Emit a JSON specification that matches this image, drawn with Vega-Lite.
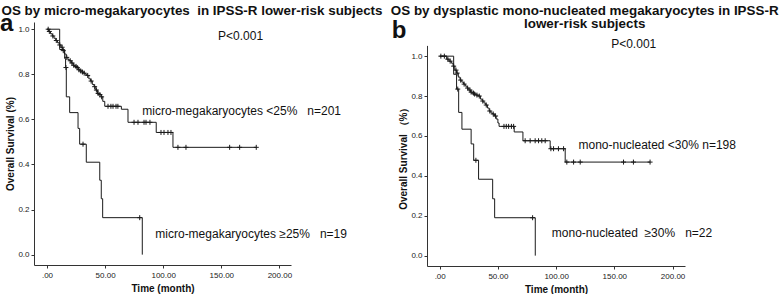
{
  "$schema": "https://vega.github.io/schema/vega-lite/v6.json",
  "padding": {"left": 0, "top": 4, "right": 0, "bottom": 0},
  "spacing": 7,
  "background": "white",
  "config": {
    "view": {"stroke": null},
    "font": "Liberation Sans",
    "axis": {
      "grid": false,
      "domainColor": "#333",
      "tickColor": "#333",
      "labelColor": "#222",
      "labelFont": "Liberation Sans",
      "labelFontSize": 8,
      "titleFont": "Liberation Sans",
      "titleFontWeight": "bold",
      "titleFontSize": 10,
      "titleColor": "#111",
      "tickSize": 3
    },
    "title": {
      "font": "Liberation Sans",
      "fontSize": 13.4,
      "fontWeight": "bold",
      "color": "#111",
      "anchor": "middle",
      "frame": "group",
      "lineHeight": 12.5
    }
  },
  "datasets": {
    "curveA": [
      {"g": "lt25", "t": 0, "s": 1.0},
      {"g": "lt25", "t": 1.5, "s": 0.99},
      {"g": "lt25", "t": 3, "s": 0.98},
      {"g": "lt25", "t": 4.5, "s": 0.97},
      {"g": "lt25", "t": 6, "s": 0.96},
      {"g": "lt25", "t": 7.5, "s": 0.95},
      {"g": "lt25", "t": 9, "s": 0.94},
      {"g": "lt25", "t": 10.5, "s": 0.93},
      {"g": "lt25", "t": 12, "s": 0.92},
      {"g": "lt25", "t": 13.5, "s": 0.905},
      {"g": "lt25", "t": 15, "s": 0.89},
      {"g": "lt25", "t": 16.5, "s": 0.875},
      {"g": "lt25", "t": 18, "s": 0.865},
      {"g": "lt25", "t": 19.5, "s": 0.86},
      {"g": "lt25", "t": 21, "s": 0.85},
      {"g": "lt25", "t": 22.5, "s": 0.84},
      {"g": "lt25", "t": 24, "s": 0.835},
      {"g": "lt25", "t": 25.5, "s": 0.83},
      {"g": "lt25", "t": 27, "s": 0.82},
      {"g": "lt25", "t": 28.5, "s": 0.815},
      {"g": "lt25", "t": 30, "s": 0.81},
      {"g": "lt25", "t": 31.5, "s": 0.805},
      {"g": "lt25", "t": 33, "s": 0.80},
      {"g": "lt25", "t": 34.5, "s": 0.795},
      {"g": "lt25", "t": 36, "s": 0.78},
      {"g": "lt25", "t": 37.5, "s": 0.77},
      {"g": "lt25", "t": 39, "s": 0.755},
      {"g": "lt25", "t": 40.5, "s": 0.745},
      {"g": "lt25", "t": 42, "s": 0.73},
      {"g": "lt25", "t": 43.5, "s": 0.715},
      {"g": "lt25", "t": 45, "s": 0.71},
      {"g": "lt25", "t": 46.5, "s": 0.70},
      {"g": "lt25", "t": 48, "s": 0.68},
      {"g": "lt25", "t": 49.7, "s": 0.658},
      {"g": "lt25", "t": 64, "s": 0.645},
      {"g": "lt25", "t": 69.7, "s": 0.587},
      {"g": "lt25", "t": 94, "s": 0.542},
      {"g": "lt25", "t": 108.4, "s": 0.476},
      {"g": "lt25", "t": 180.1, "s": 0.476},
      {"g": "ge25", "t": 0, "s": 1.0},
      {"g": "ge25", "t": 10.9, "s": 0.91},
      {"g": "ge25", "t": 15.2, "s": 0.87},
      {"g": "ge25", "t": 16, "s": 0.83},
      {"g": "ge25", "t": 16.6, "s": 0.70},
      {"g": "ge25", "t": 19.5, "s": 0.63},
      {"g": "ge25", "t": 26.7, "s": 0.56},
      {"g": "ge25", "t": 28.1, "s": 0.49},
      {"g": "ge25", "t": 33.8, "s": 0.41},
      {"g": "ge25", "t": 45.4, "s": 0.33},
      {"g": "ge25", "t": 46.7, "s": 0.248},
      {"g": "ge25", "t": 47.9, "s": 0.164},
      {"g": "ge25", "t": 82, "s": 0.0}
    ],
    "censorA": [
      {"t": 1, "s": 1.0}, {"t": 2, "s": 0.99}, {"t": 5, "s": 0.97}, {"t": 8, "s": 0.95},
      {"t": 11, "s": 0.93}, {"t": 13, "s": 0.92}, {"t": 14, "s": 0.905}, {"t": 17, "s": 0.875},
      {"t": 20, "s": 0.86}, {"t": 21.5, "s": 0.85}, {"t": 23, "s": 0.84}, {"t": 25, "s": 0.835},
      {"t": 26, "s": 0.83}, {"t": 27.5, "s": 0.82}, {"t": 29, "s": 0.815}, {"t": 30.5, "s": 0.81},
      {"t": 32, "s": 0.805}, {"t": 35, "s": 0.795}, {"t": 38, "s": 0.77}, {"t": 41, "s": 0.745},
      {"t": 42.5, "s": 0.73}, {"t": 44, "s": 0.715}, {"t": 45.5, "s": 0.71}, {"t": 47, "s": 0.70},
      {"t": 52.5, "s": 0.658}, {"t": 55, "s": 0.658}, {"t": 56.8, "s": 0.658}, {"t": 59.4, "s": 0.658}, {"t": 61, "s": 0.658},
      {"t": 74.9, "s": 0.587}, {"t": 78.3, "s": 0.587}, {"t": 83.5, "s": 0.587}, {"t": 85.2, "s": 0.587}, {"t": 88.6, "s": 0.587},
      {"t": 98.1, "s": 0.542}, {"t": 100.7, "s": 0.542}, {"t": 104.1, "s": 0.542}, {"t": 106.7, "s": 0.542},
      {"t": 112.7, "s": 0.476}, {"t": 119.6, "s": 0.476}, {"t": 157.2, "s": 0.476}, {"t": 165.8, "s": 0.476}, {"t": 180.1, "s": 0.476},
      {"t": 16.3, "s": 0.83}, {"t": 31, "s": 0.49}, {"t": 79.8, "s": 0.164}
    ],
    "labelsA": [
      {"t": 147.2, "s": 0.968, "text": "P<0.001"},
      {"t": 82, "s": 0.639, "text": "micro-megakaryocytes <25%\u00a0\u00a0\u00a0n=201"},
      {"t": 93.2, "s": 0.0906, "text": "micro-megakaryocytes \u226525%\u00a0\u00a0\u00a0n=19"}
    ],
    "letterA": [{"t": -40.4, "s": 1.024, "text": "a"}],
    "curveB": [
      {"g": "lt30", "t": 0, "s": 1.0},
      {"g": "lt30", "t": 6, "s": 0.985},
      {"g": "lt30", "t": 8, "s": 0.975},
      {"g": "lt30", "t": 10, "s": 0.965},
      {"g": "lt30", "t": 11.5, "s": 0.95},
      {"g": "lt30", "t": 13, "s": 0.93},
      {"g": "lt30", "t": 14.5, "s": 0.915},
      {"g": "lt30", "t": 16, "s": 0.895},
      {"g": "lt30", "t": 17.5, "s": 0.88},
      {"g": "lt30", "t": 19, "s": 0.87},
      {"g": "lt30", "t": 20.5, "s": 0.86},
      {"g": "lt30", "t": 22, "s": 0.85},
      {"g": "lt30", "t": 23.5, "s": 0.84},
      {"g": "lt30", "t": 25, "s": 0.83},
      {"g": "lt30", "t": 26.5, "s": 0.82},
      {"g": "lt30", "t": 28, "s": 0.815},
      {"g": "lt30", "t": 29.5, "s": 0.81},
      {"g": "lt30", "t": 31, "s": 0.805},
      {"g": "lt30", "t": 33, "s": 0.80},
      {"g": "lt30", "t": 35, "s": 0.785},
      {"g": "lt30", "t": 36.5, "s": 0.775},
      {"g": "lt30", "t": 38, "s": 0.765},
      {"g": "lt30", "t": 39.5, "s": 0.755},
      {"g": "lt30", "t": 41, "s": 0.74},
      {"g": "lt30", "t": 42.5, "s": 0.725},
      {"g": "lt30", "t": 44, "s": 0.715},
      {"g": "lt30", "t": 45.5, "s": 0.71},
      {"g": "lt30", "t": 47, "s": 0.70},
      {"g": "lt30", "t": 48.5, "s": 0.685},
      {"g": "lt30", "t": 50, "s": 0.665},
      {"g": "lt30", "t": 51, "s": 0.648},
      {"g": "lt30", "t": 64, "s": 0.62},
      {"g": "lt30", "t": 71.5, "s": 0.576},
      {"g": "lt30", "t": 94.9, "s": 0.536},
      {"g": "lt30", "t": 107.8, "s": 0.469},
      {"g": "lt30", "t": 180.7, "s": 0.469},
      {"g": "ge30", "t": 0, "s": 1.0},
      {"g": "ge30", "t": 12, "s": 0.909},
      {"g": "ge30", "t": 14.5, "s": 0.835},
      {"g": "ge30", "t": 16.3, "s": 0.718},
      {"g": "ge30", "t": 19.1, "s": 0.634},
      {"g": "ge30", "t": 27, "s": 0.56},
      {"g": "ge30", "t": 29.2, "s": 0.478},
      {"g": "ge30", "t": 33.4, "s": 0.383},
      {"g": "ge30", "t": 45.5, "s": 0.285},
      {"g": "ge30", "t": 47.2, "s": 0.19},
      {"g": "ge30", "t": 82.1, "s": 0.0}
    ],
    "censorB": [
      {"t": 1, "s": 1.0}, {"t": 4, "s": 1.0}, {"t": 7, "s": 0.985}, {"t": 9, "s": 0.975},
      {"t": 12, "s": 0.95}, {"t": 14, "s": 0.93}, {"t": 15, "s": 0.915}, {"t": 18, "s": 0.88},
      {"t": 21, "s": 0.86}, {"t": 24, "s": 0.84}, {"t": 26, "s": 0.83}, {"t": 27, "s": 0.82},
      {"t": 29, "s": 0.815}, {"t": 30, "s": 0.81}, {"t": 32, "s": 0.805}, {"t": 34, "s": 0.80},
      {"t": 37, "s": 0.775}, {"t": 40, "s": 0.755}, {"t": 43, "s": 0.725}, {"t": 46, "s": 0.71}, {"t": 48, "s": 0.70},
      {"t": 55.2, "s": 0.648}, {"t": 57.2, "s": 0.648}, {"t": 59.2, "s": 0.648}, {"t": 61.6, "s": 0.648}, {"t": 63.5, "s": 0.648},
      {"t": 73.4, "s": 0.576}, {"t": 77.7, "s": 0.576}, {"t": 82, "s": 0.576}, {"t": 84.9, "s": 0.576}, {"t": 87.7, "s": 0.576}, {"t": 90.6, "s": 0.576},
      {"t": 95.5, "s": 0.536}, {"t": 97.8, "s": 0.536}, {"t": 102, "s": 0.536}, {"t": 106.4, "s": 0.536},
      {"t": 109.2, "s": 0.469}, {"t": 115, "s": 0.469}, {"t": 120.7, "s": 0.469}, {"t": 157.9, "s": 0.469}, {"t": 166.4, "s": 0.469}, {"t": 180.7, "s": 0.469},
      {"t": 15.5, "s": 0.835}, {"t": 31.1, "s": 0.478}, {"t": 79.8, "s": 0.19}
    ],
    "labelsB": [
      {"t": 147.3, "s": 1.063, "text": "P<0.001"},
      {"t": 119.2, "s": 0.556, "text": "mono-nucleated <30% n=198"},
      {"t": 96.3, "s": 0.115, "text": "mono-nucleated\u00a0\u00a0\u226530%\u00a0\u00a0\u00a0n=22"}
    ],
    "letterB": [{"t": -41.2, "s": 1.128, "text": "b"}]
  },
  "hconcat": [
    {
      "width": 257,
      "height": 243,
      "title": {"text": "OS by micro-megakaryocytes\u00a0\u00a0in IPSS-R lower-risk subjects", "dx": 29.5, "offset": -6},
      "encoding": {
        "x": {"field": "t", "type": "quantitative",
          "scale": {"domain": [-11.2, 210], "nice": false, "zero": false},
          "axis": {"title": "Time (month)", "values": [0, 50, 100, 150, 200], "labelExpr": "datum.value == 0 ? '.00' : format(datum.value, '.2f')", "labelPadding": 3, "titlePadding": 4}},
        "y": {"field": "s", "type": "quantitative",
          "scale": {"domain": [-0.046, 1.032], "nice": false, "zero": false},
          "axis": {"title": "Overall Survival (%)", "values": [0, 0.2, 0.4, 0.6, 0.8, 1.0], "format": ".1f", "labelPadding": 2, "titlePadding": 2}}
      },
      "layer": [
        {"data": {"name": "curveA"}, "mark": {"type": "line", "interpolate": "step-after", "color": "#1a1a1a", "strokeWidth": 1}, "encoding": {"detail": {"field": "g"}}},
        {"data": {"name": "censorA"}, "mark": {"type": "point", "shape": "M-1,0L1,0M0,-1L0,1", "size": 25, "filled": false, "color": "#1a1a1a", "strokeWidth": 1, "opacity": 1}},
        {"data": {"name": "labelsA"}, "mark": {"type": "text", "align": "left", "baseline": "middle", "fontSize": 12, "color": "#111", "font": "Liberation Sans"}, "encoding": {"text": {"field": "text"}}},
        {"data": {"name": "letterA"}, "mark": {"type": "text", "align": "left", "baseline": "middle", "fontSize": 24, "fontWeight": "bold", "color": "#111", "font": "Liberation Sans"}, "encoding": {"text": {"field": "text"}}}
      ]
    },
    {
      "width": 258,
      "height": 244,
      "title": {"text": ["OS by dysplastic mono-nucleated megakaryocytes in IPSS-R", "lower-risk subjects"], "dx": 28.7, "offset": -11.4},
      "encoding": {
        "x": {"field": "t", "type": "quantitative",
          "scale": {"domain": [-10.9, 210.7], "nice": false, "zero": false},
          "axis": {"title": "Time (month)", "values": [0, 50, 100, 150, 200], "labelExpr": "datum.value == 0 ? '.00' : format(datum.value, '.2f')", "labelPadding": 3, "titlePadding": 4}},
        "y": {"field": "s", "type": "quantitative",
          "scale": {"domain": [-0.052, 1.054], "nice": false, "zero": false, "range": [244, 23.4]},
          "axis": {"title": "Overall Survival \uff08%\uff09", "values": [0, 0.2, 0.4, 0.6, 0.8, 1.0], "format": ".1f", "labelPadding": 2, "titlePadding": 2}}
      },
      "layer": [
        {"data": {"name": "curveB"}, "mark": {"type": "line", "interpolate": "step-after", "color": "#1a1a1a", "strokeWidth": 1}, "encoding": {"detail": {"field": "g"}}},
        {"data": {"name": "censorB"}, "mark": {"type": "point", "shape": "M-1,0L1,0M0,-1L0,1", "size": 25, "filled": false, "color": "#1a1a1a", "strokeWidth": 1, "opacity": 1}},
        {"data": {"name": "labelsB"}, "mark": {"type": "text", "align": "left", "baseline": "middle", "fontSize": 12, "color": "#111", "font": "Liberation Sans"}, "encoding": {"text": {"field": "text"}}},
        {"data": {"name": "letterB"}, "mark": {"type": "text", "align": "left", "baseline": "middle", "fontSize": 24, "fontWeight": "bold", "color": "#111", "font": "Liberation Sans"}, "encoding": {"text": {"field": "text"}}}
      ]
    }
  ]
}
